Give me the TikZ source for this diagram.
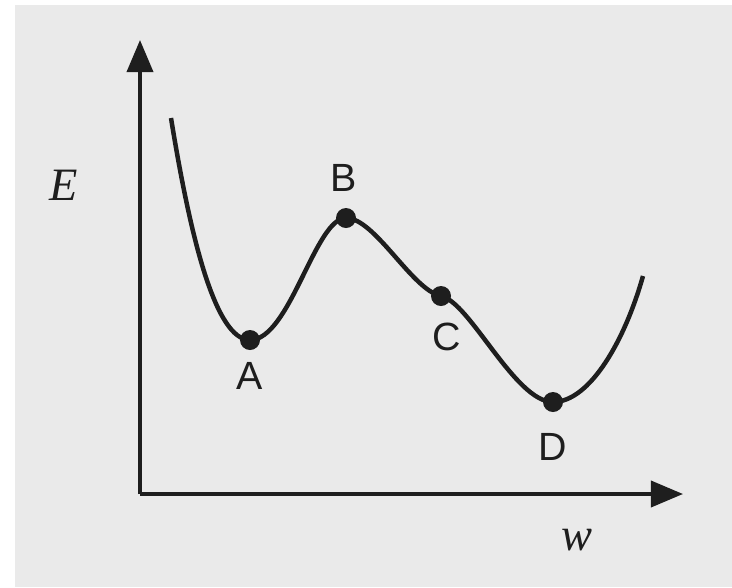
\documentclass[tikz,border=0pt]{standalone}
\usepackage{fontspec}
\setmainfont{Liberation Serif}
\newfontfamily\labfont{Liberation Sans}
\usetikzlibrary{arrows.meta}
\definecolor{paper}{RGB}{234,234,234}
\definecolor{ink}{RGB}{30,30,30}
\tikzset{
	axis/.style={ink, line width=2.6pt, -{Triangle[length=0.8cm, width=0.65cm]}},
	energy/.style={ink, line width=3.2pt, line join=round},
	minpt/.style={circle, fill=ink, inner sep=0pt, minimum size=0.5cm},
	ptlabel/.style={ink, font=\labfont\fontsize{28}{30}\selectfont},
	axlabel/.style={ink, font=\itshape\fontsize{33}{35}\selectfont}
}
\begin{document}
\begin{tikzpicture}[x=0.025cm, y=-0.025cm]
		\useasboundingbox (0,0) rectangle (732,587);
		\fill[paper] (15,5) rectangle (732,587);
		
		\coordinate (O) at (140,494);
		\coordinate (Etop) at (140,40);
		\coordinate (Wend) at (683,494);
		\coordinate (Cstart) at (171,118);
		\coordinate (Cend) at (643,276);
		
		\draw[axis] (O) -- (Etop);
		\draw[axis] (O) -- (Wend);
		
		\node[minpt] (A) at (250,340) {};
		\node[minpt] (B) at (346,218) {};
		\node[minpt] (C) at (441,296) {};
		\node[minpt] (D) at (553,402) {};
		
		\draw[energy] (Cstart) .. controls (190,235) and (215,340) .. (A.center)
			.. controls (290,340) and (315,218) .. (B.center)
			.. controls (375,218) and (412,290) .. (C.center)
			.. controls (470,302) and (515,402) .. (D.center)
			.. controls (590,402) and (625,340) .. (Cend);
		
		\node[ptlabel] (Alab) at (250,376) {A};
		\node[ptlabel] (Blab) at (344,178) {B};
		\node[ptlabel] (Clab) at (447,337) {C};
		\node[ptlabel] (Dlab) at (553,447) {D};
		
		\node[axlabel] (Elab) at (64,185) {E};
		\node[axlabel] (wlab) at (577,540) {w};
		
	\end{tikzpicture}
\end{document}
